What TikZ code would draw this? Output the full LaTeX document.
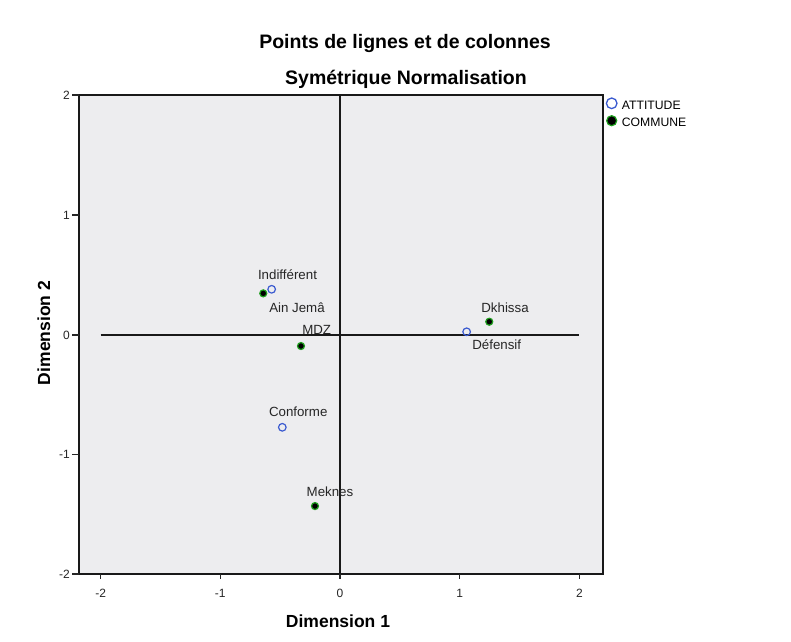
\documentclass[tikz,border=0pt]{standalone}
\usepackage{fontspec}
\setmainfont{Liberation Sans}
\definecolor{bgfill}{HTML}{EDEDEF}
\definecolor{ptblue}{HTML}{3B5BD0}
\definecolor{ptgreen}{HTML}{1FA01F}
\begin{document}
\begin{tikzpicture}[x=1pt,y=-1pt,
  opencirc/.style={circle,draw=ptblue,line width=1.2pt,fill=none,minimum size=7.6pt,inner sep=0pt},
  fillcirc/.style={circle,draw=ptgreen,fill=black,line width=1.2pt,minimum size=7pt,inner sep=0pt},
  ptlabel/.style={font=\fontsize{13.3}{14}\selectfont,text=black!85,inner sep=0pt,anchor=base},
  ticklabel/.style={font=\fontsize{12}{12}\selectfont,text=black!85,inner sep=0pt},
  titletext/.style={font=\fontsize{19.5}{20}\selectfont\bfseries,inner sep=0pt,anchor=base},
  axislabel/.style={font=\fontsize{17.5}{18}\selectfont\bfseries,inner sep=0pt,anchor=base},
  legtext/.style={font=\fontsize{12.2}{13}\selectfont,inner sep=0pt,anchor=base west},
  axisline/.style={line width=1.6pt,black!90},
  tickline/.style={line width=1.2pt,black!85}]
\useasboundingbox (0,0) rectangle (791,641);
\fill[white] (0,0) rectangle (791,641);
% titles
\node[titletext] (title1) at (405,48.5) {Points de lignes et de colonnes};
\node[titletext] (title2) at (406,84.5) {Symétrique Normalisation};
% plot frame
\fill[bgfill] (79,95) rectangle (603,574);
\draw[axisline] (79,95) rectangle (603,574);
% zero lines
\coordinate (h1) at (100.6,335);
\coordinate (h2) at (579.4,335);
\coordinate (v1) at (340,95);
\coordinate (v2) at (340,574);
\draw[axisline] (h1) -- (h2);
\draw[axisline] (v1) -- (v2);
% y ticks
\foreach \yy/\lab in {95/2,215/1,335/0,454.5/-1,574/-2}{
  \draw[tickline] (72,\yy) -- (79,\yy);
  \node[ticklabel,anchor=east] at (70,\yy) {\lab};
}
% x ticks
\foreach \xx/\lab in {100.6/-2,220.3/-1,340/0,459.7/1,579.4/2}{
  \draw[tickline] (\xx,574) -- (\xx,579);
  \node[ticklabel,anchor=base] at (\xx,597) {\lab};
}
% axis labels
\node[axislabel] (dim1) at (338,627.3) {Dimension 1};
\node[axislabel,rotate=90] (dim2) at (50,333) {Dimension 2};
% points
\begin{scope}[shift={(340pt,-335pt)},x=119.7pt,y=119.7pt]
  \node[opencirc] (indiff) at (-0.571,0.382) {};
  \node[fillcirc] (ain) at (-0.641,0.348) {};
  \node[fillcirc] (mdz) at (-0.326,-0.092) {};
  \node[fillcirc] (dkh) at (1.247,0.111) {};
  \node[opencirc] (def) at (1.058,0.027) {};
  \node[opencirc] (conf) at (-0.482,-0.771) {};
  \node[fillcirc] (mek) at (-0.209,-1.429) {};
\end{scope}
% point labels
\node[ptlabel] (lindiff) at (287.5,279.2) {Indifférent};
\node[ptlabel] (lain) at (297,312.7) {Ain Jemâ};
\node[ptlabel] (lmdz) at (316.7,334) {MDZ};
\node[ptlabel] (ldkh) at (505,312.2) {Dkhissa};
\node[ptlabel] (ldef) at (496.7,349.4) {Défensif};
\node[ptlabel] (lconf) at (298.2,416.7) {Conforme};
\node[ptlabel] (lmek) at (330,496.7) {Meknes};
% legend
\node[opencirc,minimum size=10.6pt,line width=1.3pt] (legA) at (611.7,103.3) {};
\node[fillcirc,minimum size=10pt] (legC) at (611.7,120.7) {};
\node[legtext] (legAt) at (621.7,109.4) {ATTITUDE};
\node[legtext] (legCt) at (621.7,126.7) {COMMUNE};
\end{tikzpicture}
\end{document}
